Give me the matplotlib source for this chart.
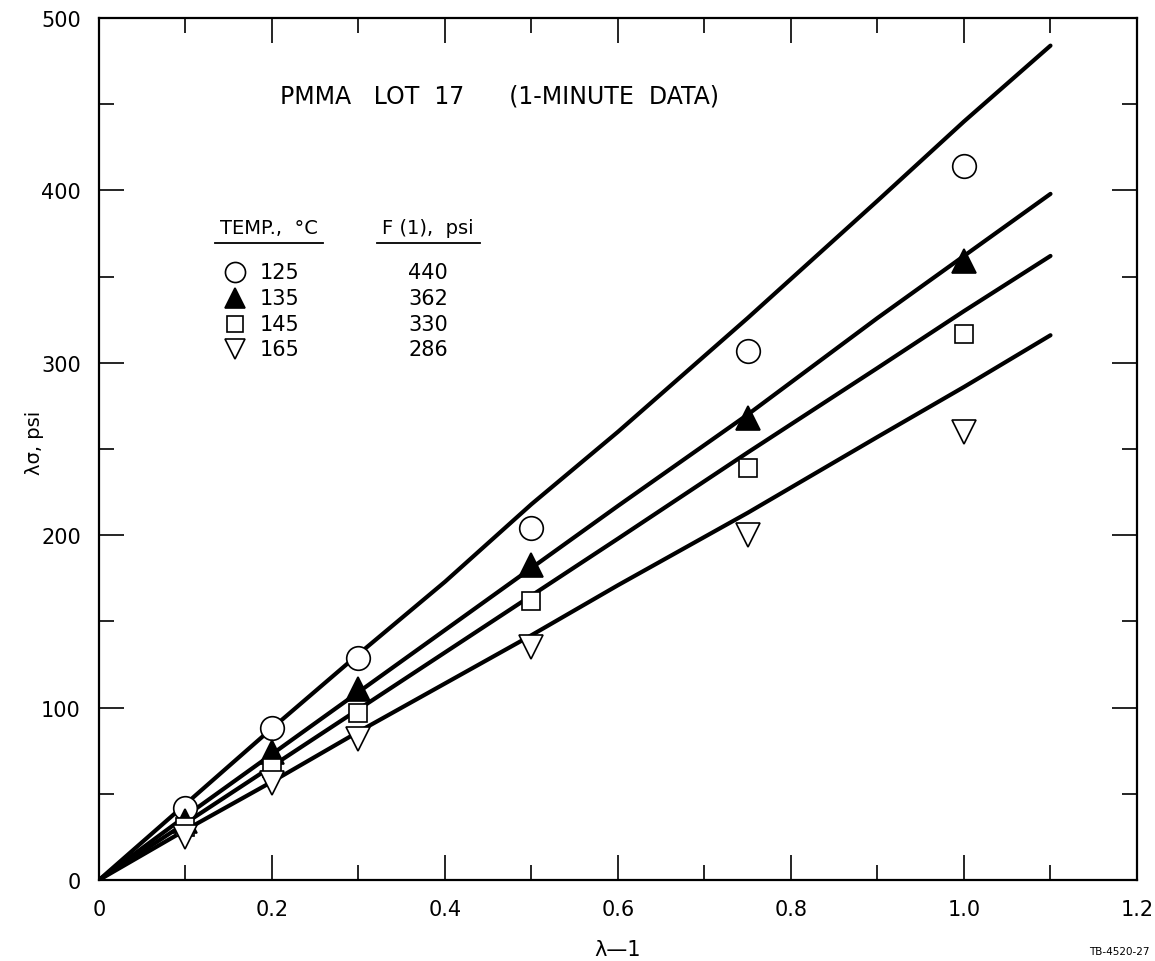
import matplotlib.pyplot as plt
from matplotlib.ticker import MultipleLocator

# ---- data ----
x_pts = [0.1, 0.2, 0.3, 0.5, 0.75, 1.0]
y_125 = [42, 88, 129, 204, 307, 414]
y_135 = [34, 74, 111, 183, 268, 359]
y_145 = [31, 65, 97, 162, 239, 317]
y_165 = [25, 56, 82, 135, 200, 260]

# fitted curves
x_line = [0, 0.1, 0.2, 0.3, 0.4, 0.5, 0.6, 0.75, 0.9, 1.0, 1.1]
l_125 = [0, 44, 88, 131, 173, 218, 260, 326, 394, 440, 484]
l_135 = [0, 37, 73, 109, 145, 181, 217, 270, 326, 362, 398]
l_145 = [0, 33, 66, 99, 132, 165, 198, 248, 297, 330, 362]
l_165 = [0, 29, 57, 86, 114, 142, 171, 213, 257, 286, 316]

temps = ["125", "135", "145", "165"]
f1 = ["440", "362", "330", "286"]

plt.rcParams['font.family'] = ['DejaVu Sans']

fig = plt.figure(figsize=(11.55, 9.62), dpi=100)
ax = fig.add_axes([0.0857, 0.0842, 0.8987, 0.8960])

for yl in (l_125, l_135, l_145, l_165):
    ax.plot(x_line, yl, color='black', lw=3, solid_capstyle='round', zorder=2)

styles = [
    ('o', 'white', 17),
    ('^', 'black', 17),
    ('s', 'white', 13),
    ('v', 'white', 17),
]
for yv, (m, fc, ms) in zip((y_125, y_135, y_145, y_165), styles):
    ax.plot(x_pts, yv, linestyle='none', marker=m, mfc=fc, mec='black',
            mew=1.2, ms=ms, zorder=3)

ax.set_xlim(0, 1.2)
ax.set_ylim(0, 500)
ax.xaxis.set_minor_locator(MultipleLocator(0.1))
ax.yaxis.set_major_locator(MultipleLocator(100))
ax.yaxis.set_minor_locator(MultipleLocator(50))
ax.set_xticks([0, 0.2, 0.4, 0.6, 0.8, 1.0, 1.2])
ax.set_xticklabels(["0", "0.2", "0.4", "0.6", "0.8", "1.0", "1.2"])
ax.tick_params(which='both', direction='in', top=True, right=True,
               labelsize=15, width=1.2)
ax.tick_params(axis='x', pad=14)
ax.tick_params(axis='y', pad=13)
ax.tick_params(which='major', length=18)
ax.tick_params(which='minor', length=11)
for s in ax.spines.values():
    s.set_linewidth(1.6)

ax.set_xlabel("λ—1", fontsize=15, labelpad=14)
ax.set_ylabel("λσ, psi", fontsize=14)
ax.yaxis.set_label_coords(-0.053, 0.508)

ax.text(0.386, 0.910, "PMMA   LOT  17      (1-MINUTE  DATA)",
        transform=ax.transAxes, ha='center', va='center', fontsize=17)

# legend table
ax.text(0.164, 0.7575, "TEMP.,  °C", transform=ax.transAxes, ha='center',
        va='center', fontsize=14)
ax.text(0.317, 0.7575, "F (1),  psi", transform=ax.transAxes, ha='center',
        va='center', fontsize=14)
ax.plot([0.112, 0.216], [0.739, 0.739], transform=ax.transAxes,
        color='black', lw=1.3)
ax.plot([0.268, 0.367], [0.739, 0.739], transform=ax.transAxes,
        color='black', lw=1.3)
row_y = [0.7053, 0.675, 0.645, 0.616]
for yy, (m, fc, ms), t, f in zip(row_y, styles, temps, f1):
    ax.plot([0.131], [yy], transform=ax.transAxes, marker=m, mfc=fc,
            mec='black', mew=1.2, ms=ms * 0.85, linestyle='none')
    ax.text(0.155, yy, t, transform=ax.transAxes, ha='left', va='center',
            fontsize=15)
    ax.text(0.317, yy, f, transform=ax.transAxes, ha='center', va='center',
            fontsize=15)

fig.text(0.995, 0.005, "TB-4520-27", ha='right', va='bottom', fontsize=7.5)

fig.savefig("out.png", dpi=100)
